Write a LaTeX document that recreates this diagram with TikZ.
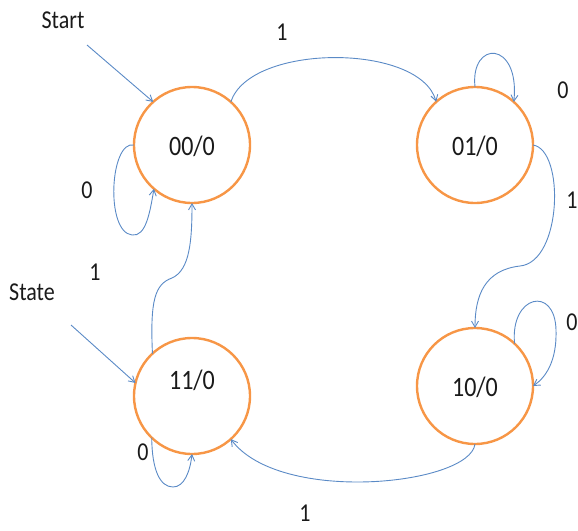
\documentclass[tikz,border=0pt]{standalone}
\usepackage{fontspec}
\setmainfont{Carlito}
\usetikzlibrary{arrows.meta}
\definecolor{edgeblue}{HTML}{5A8AC6}
\definecolor{stateorange}{HTML}{F79646}
\definecolor{ink}{HTML}{1A1A1A}
% text set a little taller than wide
\newcommand{\tallstretch}[1]{\scalebox{1}[1.17]{#1}}
\tikzset{
  statenode/.style={circle, draw=stateorange, line width=2.4pt, fill=white,
    minimum size=116pt, inner sep=0pt, outer sep=0pt},
  statetext/.style={font=\fontsize{24}{27}\selectfont, text=ink, inner sep=0pt},
  lbl/.style={font=\fontsize{22}{25}\selectfont, text=ink, inner sep=0pt},
  trans/.style={draw=edgeblue, line width=0.9pt, -{Straight Barb[angle=60:7pt]}},
}
\begin{document}
\begin{tikzpicture}[x=1pt, y=-1pt]
  \useasboundingbox (0,0) rectangle (578,530);

  % states
  \node[statenode] (s00) at (192,145) {};
  \node[statenode] (s01) at (475,145) {};
  \node[statenode] (s10) at (475,386) {};
  \node[statenode] (s11) at (192,396) {};
  \node[statetext] (t00) at (192,146) {\tallstretch{00/0}};
  \node[statetext] (t01) at (475,146) {\tallstretch{01/0}};
  \node[statetext] (t10) at (475,387) {\tallstretch{10/0}};
  \node[statetext] (t11) at (192,380) {\tallstretch{11/0}};

  % entry labels and their arrows
  \node[lbl] (start) at (63,20) {\tallstretch{Start}};
  \node[lbl] (state) at (32,292) {\tallstretch{State}};
  \coordinate (startfoot) at (87,45);
  \coordinate (statefoot) at (71,325);
  \draw[trans] (startfoot) -- (s00.132);
  \draw[trans] (statefoot) -- (s11.167);

  % transitions
  \draw[trans] (s00.48) .. controls (250,43) and (420,43) .. (s01.132);
  \draw[trans] (s01.90) .. controls (470,40) and (520,40) .. (s01.48);
  \draw[trans] (s01.0) .. controls (565,150) and (562,262) .. (520,266)
                       .. controls (485,270) and (475,295) .. (s10.90);
  \draw[trans] (s10.47) .. controls (510,295) and (555,285) .. (556,330)
                        .. controls (557,362) and (545,378) .. (s10.0);
  \draw[trans] (s10.270) .. controls (470,485) and (280,505) .. (s11.312);
  \draw[trans] (s11.226) .. controls (152,470) and (160,487) .. (173,487)
                         .. controls (184,487) and (190,472) .. (s11.270);
  \draw[trans] (s11.133) .. controls (150,300) and (155,284) .. (172,278)
                         .. controls (190,270) and (192,240) .. (s00.270);
  \draw[trans] (s00.180) .. controls (110,140) and (105,232) .. (132,235)
                         .. controls (146,237) and (150,212) .. (s00.229);

  % input labels
  \node[lbl] (i1) at (282,32) {\tallstretch{1}};
  \node[lbl] (i2) at (563,90) {\tallstretch{0}};
  \node[lbl] (i3) at (572,200) {\tallstretch{1}};
  \node[lbl] (i4) at (572,322) {\tallstretch{0}};
  \node[lbl] (i5) at (305,513) {\tallstretch{1}};
  \node[lbl] (i6) at (143,452) {\tallstretch{0}};
  \node[lbl] (i7) at (95,272) {\tallstretch{1}};
  \node[lbl] (i8) at (87,190) {\tallstretch{0}};
\end{tikzpicture}
\end{document}
